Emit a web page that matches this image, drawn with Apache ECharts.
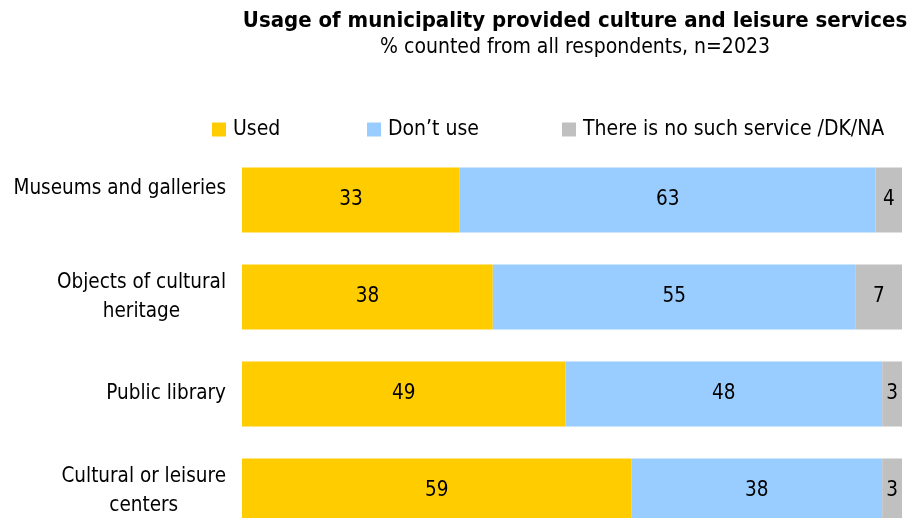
<!DOCTYPE html>
<html>
<head>
<meta charset="utf-8">
<script src="https://cdn.jsdelivr.net/npm/echarts@6/dist/echarts.min.js"></script>
<style>
  html, body { margin: 0; padding: 0; background: #fff; }
  #chart { width: 909px; height: 518px; }
</style>
</head>
<body>
<div id="chart"></div>
<script>
// Survey categories, top to bottom
const categories = [
  'Museums and galleries',
  'Objects of cultural\nheritage',
  'Public library',
  'Cultural or leisure\ncenters'
];
// Shares in percent
const usedValues = [33, 38, 49, 59];
const dontUseValues = [63, 55, 48, 38];
const noServiceValues = [4, 7, 3, 3];

const seriesNames = ['Used', 'Don\u2019t use', 'There is no such service /DK/NA'];
const seriesColors = ['#FFCC00', '#99CCFF', '#C0C0C0'];

const FONT = '"DejaVu Sans Condensed", "DejaVu Sans", sans-serif';
const FS = 20.5;

const chart = echarts.init(document.getElementById('chart'), null, { renderer: 'canvas' });

function barSeries(name, values, color) {
  return {
    name: name,
    type: 'bar',
    stack: 'total',
    barWidth: 65,
    data: values,
    itemStyle: { color: color },
    label: {
      show: true,
      position: 'inside',
      color: '#000',
      fontFamily: FONT,
      fontSize: FS
    },
    emphasis: { disabled: true }
  };
}

const legendLefts = [212, 367, 562];

// Category labels: lines centred within the block, block right-aligned to the axis;
// the first label sits about half a line above its bar.
function categoryLabel(value, index) {
  const lines = value.split('\n').map(l => '{c|' + l + '}');
  if (index === 0) lines.push('{s| }');
  return lines.join('\n');
}

chart.setOption({
  animation: false,
  backgroundColor: '#fff',
  title: {
    text: 'Usage of municipality provided culture and leisure services',
    subtext: '% counted from all respondents, n=2023',
    left: 570,
    textAlign: 'center',
    top: 5,
    itemGap: 5,
    textStyle: { fontFamily: FONT, fontSize: 22, fontWeight: 'bold', color: '#000' },
    subtextStyle: { fontFamily: FONT, fontSize: 21, color: '#000' }
  },
  legend: seriesNames.map((n, i) => ({
    data: [n],
    left: legendLefts[i],
    top: 119,
    padding: 0,
    icon: 'rect',
    itemWidth: 14,
    itemHeight: 14,
    itemGap: 0,
    selectedMode: false,
    textStyle: { fontFamily: FONT, fontSize: 21, color: '#000', padding: [0, 0, 0, 2] }
  })),
  grid: {
    left: 242, right: 7, top: 151.5, height: 388,
    containLabel: false,
    outerBoundsMode: 'none'
  },
  xAxis: {
    type: 'value',
    min: 0,
    max: 100,
    show: false
  },
  yAxis: {
    type: 'category',
    inverse: true,
    data: categories,
    axisLine: { show: false },
    axisTick: { show: false },
    splitLine: { show: false },
    axisLabel: {
      margin: 16,
      color: '#000',
      align: 'right',
      formatter: categoryLabel,
      rich: {
        c: {
          align: 'center',
          color: '#000',
          fontFamily: FONT,
          fontSize: FS,
          lineHeight: 29
        },
        s: {
          fontFamily: FONT,
          fontSize: FS,
          lineHeight: 23
        }
      }
    }
  },
  series: [
    barSeries(seriesNames[0], usedValues, seriesColors[0]),
    barSeries(seriesNames[1], dontUseValues, seriesColors[1]),
    barSeries(seriesNames[2], noServiceValues, seriesColors[2])
  ]
});
</script>
</body>
</html>
